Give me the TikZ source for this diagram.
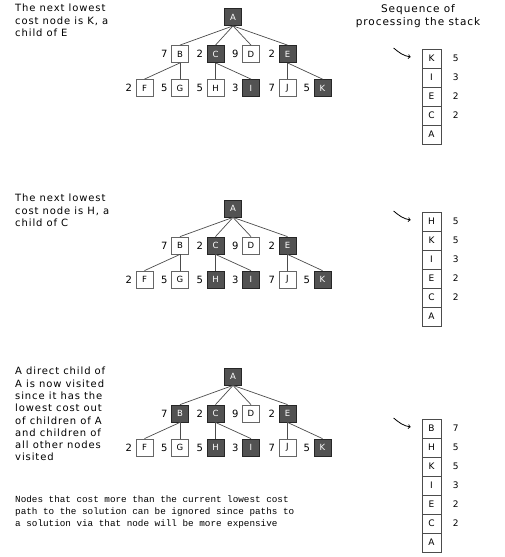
\documentclass[tikz,border=0pt]{standalone}
\usepackage{fontspec}
\setmainfont{DejaVu Sans}
\setmonofont{Liberation Mono}
\newfontfamily\handfont[LetterSpace=9]{DejaVu Sans}
\usetikzlibrary{positioning}

\tikzset{
  box/.style={draw=black!60, line width=0.8pt, fill=white, minimum size=17pt, inner sep=0pt, font=\handfont\fontsize{8.5}{9}\selectfont},
  done/.style={box, draw=black!85, fill=black!68, text=white},
  cost/.style={font=\handfont\fontsize{10}{10}\selectfont},
  edge/.style={draw=black!70, line width=0.7pt},
  stackbox/.style={draw=black!70, line width=0.8pt, minimum size=19pt, inner sep=0pt, font=\handfont\fontsize{9}{9}\selectfont},
  note/.style={align=left, inner sep=0pt, anchor=north west, font=\handfont\fontsize{10}{12.3}\selectfont},
}

% one search tree: prefix, y of the root, style of B, style of H
\newcommand{\costtree}[4]{
  \node[done] (#1A) at (233,#2) {A};
  \node[#3, label={[cost]left:7}] (#1B) at (180,#2+37) {B};
  \node[done, label={[cost]left:2}] (#1C) at (215.5,#2+37) {C};
  \node[box, label={[cost]left:9}] (#1D) at (251,#2+37) {D};
  \node[done, label={[cost]left:2}] (#1E) at (287.5,#2+37) {E};
  \node[box, label={[cost]left:2}] (#1F) at (144.5,#2+71) {F};
  \node[box, label={[cost]left:5}] (#1G) at (180,#2+71) {G};
  \node[#4, label={[cost]left:5}] (#1H) at (215.5,#2+71) {H};
  \node[done, label={[cost]left:3}] (#1I) at (251,#2+71) {I};
  \node[box, label={[cost]left:7}] (#1J) at (287.5,#2+71) {J};
  \node[done, label={[cost]left:5}] (#1K) at (322.5,#2+71) {K};
  \foreach \p/\c in {A/B,A/C,A/D,A/E,B/F,B/G,C/H,C/I,E/J,E/K}
    \draw[edge] (#1\p.south) -- (#1\c.north);
}

% stack of visited nodes: prefix, y of the top box, list letter/cost
\newcommand{\stackseq}[3]{
  \foreach \l/\c [count=\i from 0] in {#3} {
    \node[stackbox] (#1s\i) at (431.5,#2+19*\i) {\l};
    \node[cost, anchor=west, font=\handfont\fontsize{9}{9}\selectfont] (#1c\i) at ([xshift=8pt]#1s\i.east) {\c};
  }
  \coordinate (#1tail) at ([xshift=-28pt,yshift=10.5pt]#1s0.west);
  \draw[->, line width=0.8pt] (#1tail) to[out=-40, in=170] ([xshift=-11pt,yshift=1.5pt]#1s0.west);
}

\begin{document}
\begin{tikzpicture}[x=1pt, y=-1pt]
  \useasboundingbox (0,0) rectangle (504,557);

  \node[align=center, font=\handfont\fontsize{10.5}{13.5}\selectfont] (title) at (418,16) {Sequence of\\processing the stack};

  % first step
  \node[note] (text1) at (15,4) {The next lowest\\cost node is K, a\\child of E};
  \costtree{p}{17}{box}{box}
  \stackseq{p}{58.5}{K/5, I/3, E/2, C/2, A/}

  % second step
  \node[note] (text2) at (15,194) {The next lowest\\cost node is H, a\\child of C};
  \costtree{q}{208.5}{box}{done}
  \stackseq{q}{221.5}{H/5, K/5, I/3, E/2, C/2, A/}

  % third step
  \node[note] (text3) at (15,367) {A direct child of\\A is now visited\\since it has the\\lowest cost out\\of children of A\\and children of\\all other nodes\\visited};
  \costtree{r}{376.5}{done}{done}
  \stackseq{r}{428.5}{B/7, H/5, K/5, I/3, E/2, C/2, A/}

  \node[note, font=\ttfamily\fontsize{9.3}{12}\selectfont] (footnote) at (15,496) {Nodes that cost more than the current lowest cost\\path to the solution can be ignored since paths to\\a solution via that node will be more expensive};
\end{tikzpicture}
\end{document}
